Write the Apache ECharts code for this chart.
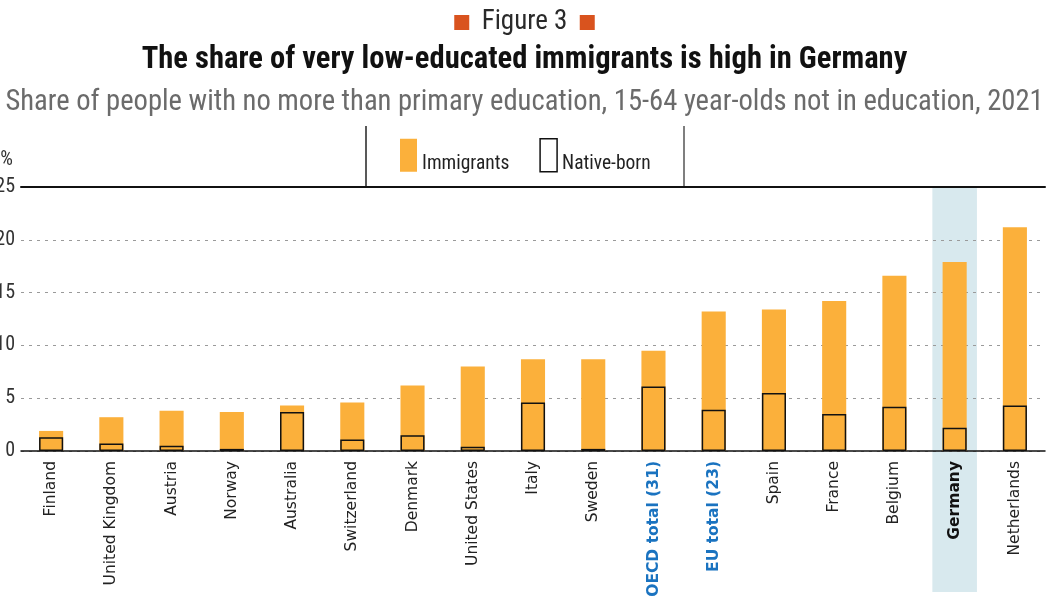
<!DOCTYPE html>
<html>
<head>
<meta charset="utf-8">
<script src="https://cdn.jsdelivr.net/npm/echarts@6/dist/echarts.min.js"></script>
<style>
  html, body { margin: 0; padding: 0; background: #ffffff; }
  #chart { width: 1049px; height: 600px; }
</style>
</head>
<body>
<div id="chart"></div>
<script>
const categories = [
  'Finland', 'United Kingdom', 'Austria', 'Norway', 'Australia', 'Switzerland',
  'Denmark', 'United States', 'Italy', 'Sweden', 'OECD total (31)', 'EU total (23)',
  'Spain', 'France', 'Belgium', 'Germany', 'Netherlands',
]
const immigrants = [1.9, 3.2, 3.8, 3.7, 4.3, 4.6, 6.2, 8.0, 8.7, 8.7, 9.5, 13.2, 13.4, 14.2, 16.6, 17.9, 21.2]
const nativeBorn = [1.3, 0.7, 0.5, 0.2, 3.7, 1.1, 1.5, 0.4, 4.6, 0.2, 6.1, 3.9, 5.5, 3.5, 4.2, 2.2, 4.3]
const yTicks = [0, 5, 10, 15, 20, 25]

const highlight = 'Germany'
const aggregates = ['OECD total (31)', 'EU total (23)']

const cond = '"Roboto Condensed", "Open Sans", sans-serif'
const dejavu = '"DejaVu Sans", sans-serif'
const orange = '#fbb03b'

const chart = echarts.init(document.getElementById('chart'))

chart.setOption({
  animation: false,
  title: [
    {
      text: '{sq|}  Figure 3  {sq|}',
      left: 'center',
      top: 4,
      textStyle: {
        fontFamily: cond,
        fontSize: 27,
        fontWeight: 'normal',
        color: '#2a2a2a',
        rich: {
          sq: { backgroundColor: '#d9531e', width: 15, height: 15 },
        },
      },
    },
    {
      text: 'The share of very low-educated immigrants is high in Germany',
      left: 'center',
      top: 40,
      textStyle: { fontFamily: cond, fontSize: 30.6, fontWeight: 'bold', color: '#111111' },
    },
    {
      text: 'Share of people with no more than primary education, 15-64 year-olds not in education, 2021',
      left: 'center',
      top: 83,
      textStyle: { fontFamily: cond, fontSize: 28.6, fontWeight: 'normal', color: '#6b6b6b' },
    },
  ],
  legend: {
    left: 400,
    top: 138,
    padding: 0,
    itemWidth: 17,
    itemHeight: 33,
    itemGap: 30,
    formatter: (name) => '{t|' + name + '}',
    textStyle: {
      rich: {
        t: { fontFamily: cond, fontSize: 19.5, color: '#222222', padding: [18, 0, 0, 0] },
      },
    },
    data: [
      { name: 'Immigrants', icon: 'rect', itemStyle: { color: orange, borderWidth: 0 } },
      { name: 'Native-born', icon: 'rect', itemStyle: { color: 'rgba(0,0,0,0)', borderColor: '#111111', borderWidth: 1.5 } },
    ],
  },
  grid: { left: 21, right: 4, top: 187, bottom: 149, outerBoundsMode: 'none' },
  xAxis: [
    {
      type: 'category',
      data: categories,
      axisLine: { lineStyle: { color: '#111111', width: 1.5 } },
      axisTick: { show: false },
      axisLabel: {
        rotate: 90,
        margin: 10,
        interval: 0,
        fontFamily: dejavu,
        fontSize: 15.5,
        color: '#222222',
        formatter: (v) => {
          if (v === highlight) return '{hl|' + v + '}'
          if (aggregates.includes(v)) return '{agg|' + v + '}'
          return v
        },
        rich: {
          hl: { fontFamily: dejavu, fontSize: 15.5, fontWeight: 'bold', color: '#111111' },
          agg: { fontFamily: dejavu, fontSize: 15.5, fontWeight: 'bold', color: '#1a73c0' },
        },
      },
    },
    {
      type: 'category',
      data: categories,
      position: 'top',
      axisLine: { lineStyle: { color: '#111111', width: 2 } },
      axisTick: { show: false },
      axisLabel: { show: false },
    },
  ],
  yAxis: {
    type: 'value',
    min: yTicks[0],
    max: yTicks[yTicks.length - 1],
    interval: 5,
    name: '%',
    nameLocation: 'end',
    nameGap: 27,
    nameTextStyle: { fontFamily: cond, fontSize: 20, color: '#333333', align: 'right', verticalAlign: 'middle', padding: [0, 8, 0, 0] },
    axisLine: { show: false },
    axisTick: { show: false },
    axisLabel: { fontFamily: cond, fontSize: 20, color: '#333333', margin: 6 },
    splitLine: { lineStyle: { color: '#9a9a9a', type: [3, 5], width: 1.2 } },
  },
  series: [
    {
      name: 'Immigrants',
      type: 'bar',
      data: immigrants,
      barWidth: '40%',
      barGap: '-100%',
      itemStyle: { color: orange },
    },
    {
      name: 'Native-born',
      type: 'bar',
      data: nativeBorn,
      barWidth: '40%',
      barGap: '-100%',
      itemStyle: { color: 'rgba(0,0,0,0)', borderColor: '#111111', borderWidth: 1.5 },
    },
  ],
})

// highlight band behind Germany, running down through its label
function drawBand() {
  const idx = categories.indexOf(highlight)
  const cx = chart.convertToPixel({ xAxisIndex: 0 }, idx)
  const step = chart.convertToPixel({ xAxisIndex: 0 }, idx + 1) - cx
  const top = chart.convertToPixel({ yAxisIndex: 0 }, yTicks[yTicks.length - 1])
  const w = step * 0.74
  chart.setOption({
    graphic: [
      {
        type: 'rect',
        z: -10,
        shape: { x: cx - w / 2, y: top, width: w, height: 592 - top },
        style: { fill: '#d8e9ee' },
      },
      {
        type: 'line',
        shape: { x1: 366, y1: 126, x2: 366, y2: top },
        style: { stroke: '#222222', lineWidth: 1.5 },
      },
      {
        type: 'line',
        shape: { x1: 684, y1: 126, x2: 684, y2: top },
        style: { stroke: '#555555', lineWidth: 1.5 },
      },
    ],
  })
}
drawBand()
</script>
</body>
</html>
